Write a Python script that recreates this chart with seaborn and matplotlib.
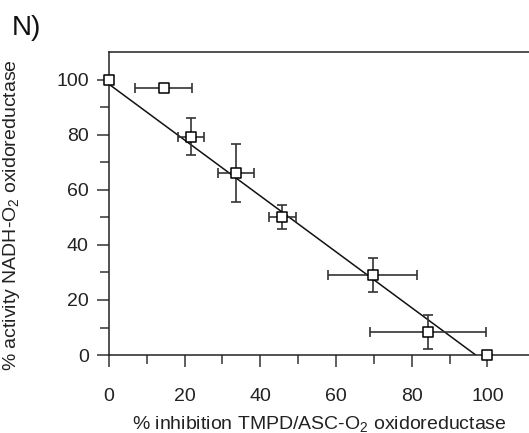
import numpy as np
import pandas as pd
import seaborn as sns
import matplotlib.pyplot as plt

# values
inhibition = [0, 14.5, 21.7, 33.5, 45.8, 69.7, 84.4, 100]
inhibition_err = [0, 7.5, 3.4, 4.7, 3.6, 11.8, 15.3, 0]
activity = [100, 96.8, 79.3, 66.1, 50.0, 29.0, 8.4, 0]
activity_err = [0, 0, 6.8, 10.4, 4.4, 6.1, 6.2, 0]

# drawn fit line: y = intercept + slope * x
fit_intercept = 98.3
fit_slope = -1.014

sns.set_style("ticks")
plt.rcParams["font.family"] = ["Liberation Sans", "DejaVu Sans"]
plt.rcParams["mathtext.fontset"] = "custom"
plt.rcParams["mathtext.rm"] = "Liberation Sans"
plt.rcParams["mathtext.it"] = "Liberation Sans"

df = pd.DataFrame({"x": inhibition, "xerr": inhibition_err,
                   "y": activity, "yerr": activity_err})

fig = plt.figure(figsize=(5.29, 4.33), dpi=100)
ax = fig.add_axes([0.206, 0.180, 0.794, 0.70])

# fitted line, stops where it reaches 0 %
x_end = -fit_intercept / fit_slope
fit_df = pd.DataFrame({"x": [0, x_end]})
fit_df["y"] = fit_intercept + fit_slope * fit_df["x"]
sns.lineplot(data=fit_df, x="x", y="y", ax=ax, color="#111111", lw=1.1, zorder=2)

# error bars
err_col = "#333333"
hx = df[df["xerr"] > 0]
ax.errorbar(hx["x"], hx["y"], xerr=hx["xerr"], fmt="none", ecolor=err_col,
            elinewidth=1.2, capsize=3.5, capthick=1.2, zorder=3)
vy = df[df["yerr"] > 0]
ax.errorbar(vy["x"], vy["y"], yerr=vy["yerr"], fmt="none", ecolor=err_col,
            elinewidth=1.2, capsize=3.5, capthick=1.2, zorder=3)

sns.scatterplot(data=df, x="x", y="y", ax=ax, marker="s", s=44,
                facecolor="white", edgecolor="black", linewidth=1.1,
                zorder=5, clip_on=False)

ax.set_xlim(0, 111)
ax.set_ylim(0, 110)
ax.set_xticks([0, 20, 40, 60, 80, 100])
ax.set_xticks([10, 30, 50, 70, 90], minor=True)
ax.set_yticks([0, 20, 40, 60, 80, 100])
ax.set_yticks([10, 30, 50, 70, 90], minor=True)

ax.spines["right"].set_visible(False)
for s in ["left", "bottom", "top"]:
    ax.spines[s].set_linewidth(1.1)
    ax.spines[s].set_color("#222222")

ax.tick_params(axis="both", which="major", length=8.5, width=1.1, color="#333333",
               labelsize=14, labelcolor="#222222")
ax.tick_params(axis="both", which="minor", length=6.5, width=1.1, color="#333333")
ax.tick_params(axis="x", which="major", pad=15)
ax.tick_params(axis="y", which="major", pad=6)

ax.set_xlabel("% inhibition TMPD/ASC-O$_2$ oxidoreductase", fontsize=14,
              color="#222222", labelpad=7)
ax.set_ylabel("% activity NADH-O$_2$ oxidoreductase", fontsize=14,
              color="#222222")
ax.yaxis.set_label_coords(-0.207, 0.462)

fig.text(0.022, 0.965, "N)", fontsize=20, va="top", ha="left", color="#111111")

fig.savefig("out.png", dpi=100)
